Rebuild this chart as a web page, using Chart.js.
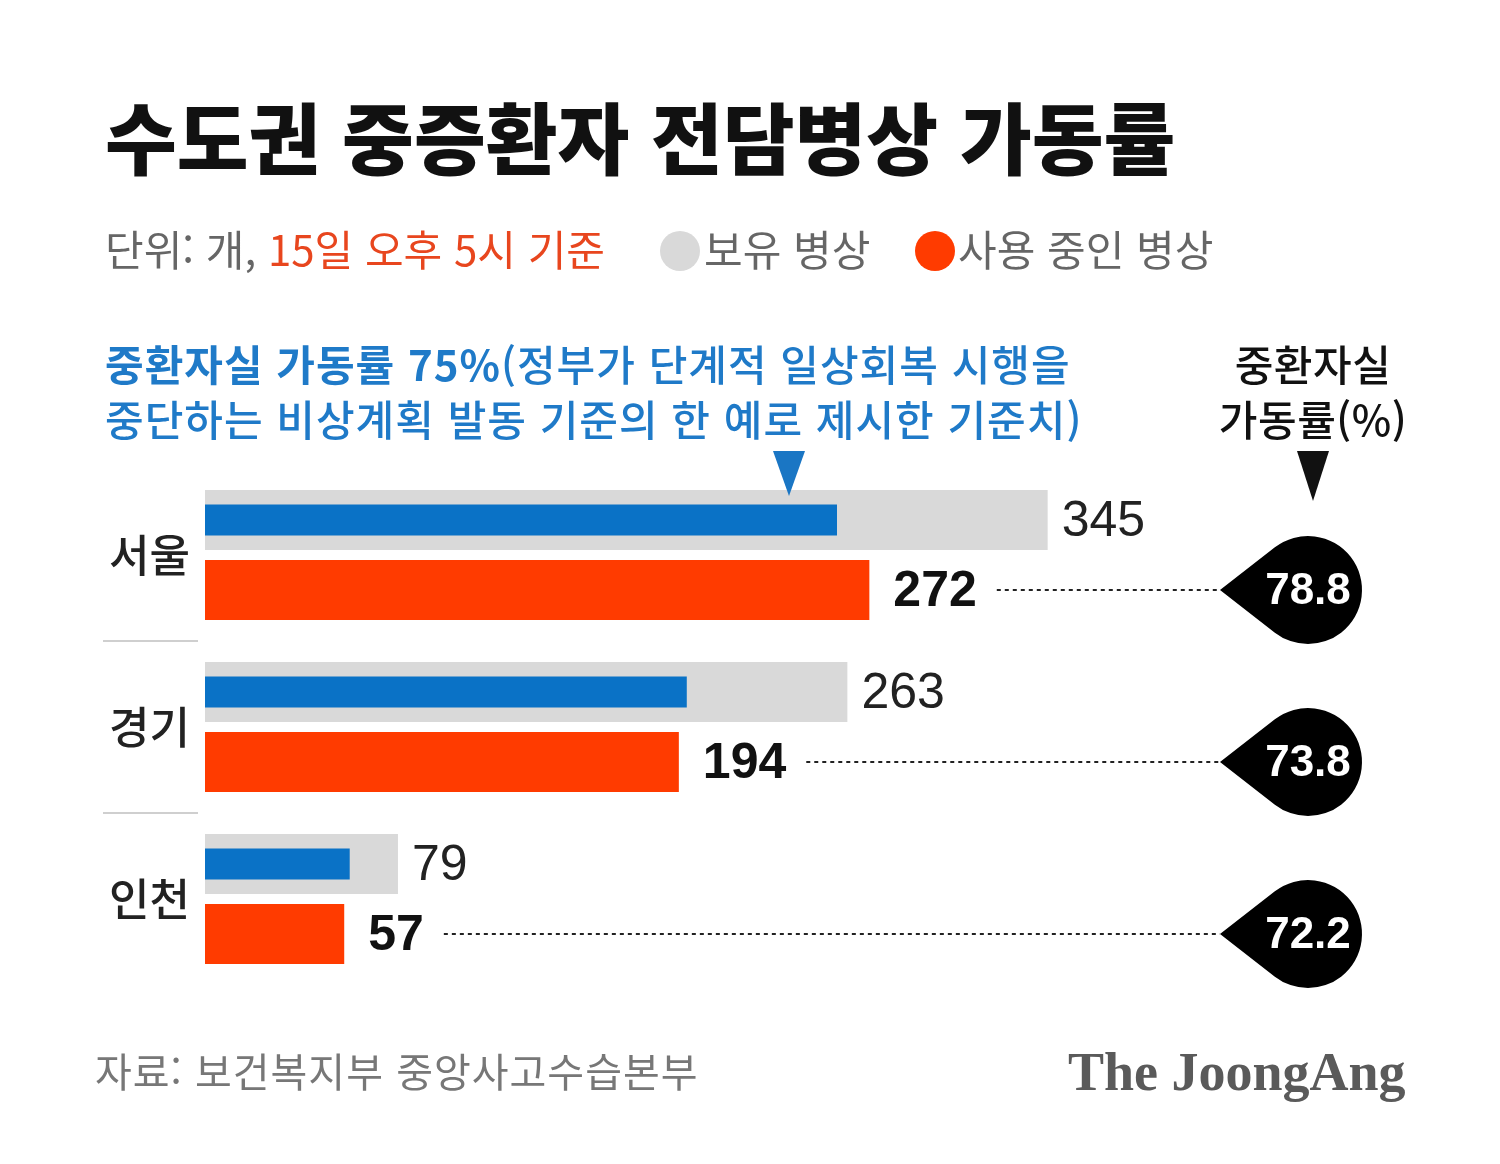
<!DOCTYPE html>
<html lang="ko">
<head>
<meta charset="utf-8">
<script src="https://cdn.jsdelivr.net/npm/chart.js@4.4.1/dist/chart.umd.min.js"></script>
<style>
  html, body { margin: 0; padding: 0; background: #fff; }
  #wrap { position: relative; width: 1500px; height: 1164px; overflow: hidden; font-family: "Noto Sans CJK KR", "Noto Sans", sans-serif; }
  #chart { position: absolute; left: 0; top: 0; }
  .t { position: absolute; white-space: nowrap; }
  #title { left: 105px; top: 96px; font-size: 78px; line-height: 78px; font-weight: 900; color: #111; letter-spacing: 0px; }
  .sub { top: 227px; font-size: 42px; line-height: 42px; color: #666; letter-spacing: 0px; }
  .sub .hl { color: #e8461e; }
  .dot { position: absolute; width: 40px; height: 40px; border-radius: 50%; top: 231px; }
  #note { left: 105px; top: 335px; font-size: 42px; line-height: 55px; color: #1f7ac8; font-weight: 500; letter-spacing: 1px; }
  #note b { font-weight: 700; }
  #rateHead { left: 1203px; top: 335px; width: 220px; text-align: center; font-size: 42px; line-height: 55px; color: #111; font-weight: 500; letter-spacing: 0.5px; }
  .tri { position: absolute; width: 0; height: 0; border-left: 16px solid transparent; border-right: 16px solid transparent; }
  #src { left: 95px; top: 1050px; font-size: 40px; line-height: 40px; color: #777; letter-spacing: 1px; }
  #logo { left: 1068px; top: 1042px; font-size: 54px; line-height: 60px; color: #5a5a5a; font-family: "Liberation Serif", "DejaVu Serif", serif; font-weight: 700; letter-spacing: 0px; }
</style>
</head>
<body>
<div id="wrap">
  <canvas id="chart" width="1500" height="1164"></canvas>
  <div class="t" id="title">수도권 중증환자 전담병상 가동률</div>
  <div class="t sub" style="left:105px">단위: 개, <span class="hl">15일 오후 5시 기준</span></div>
  <span class="dot" style="left:660px; background:#d9d9d9"></span>
  <div class="t sub" style="left:704px">보유 병상</div>
  <span class="dot" style="left:915px; background:#ff3b00"></span>
  <div class="t sub" style="left:958px">사용 중인 병상</div>
  <div class="t" id="note"><b>중환자실 가동률 75%</b>(정부가 단계적 일상회복 시행을<br>중단하는 비상계획 발동 기준의 한 예로 제시한 기준치)</div>
  <div class="t" id="rateHead">중환자실<br>가동률(%)</div>
  <div class="tri" style="left:773px; top:451px; border-top:45px solid #1a76c4;"></div>
  <div class="tri" style="left:1297px; top:451px; border-top:50px solid #111;"></div>
  <div class="t" id="src">자료: 보건복지부 중앙사고수습본부</div>
  <div class="t" id="logo">The JoongAng</div>
</div>
<script>
// ---- data ----
const categories = ['서울', '경기', '인천'];
const ownedBeds = [345, 263, 79];          // 보유 병상
const usedBeds = [272, 194, 57];           // 사용 중인 병상
const thresholdBeds = [258.75, 197.25, 59.25]; // 가동률 75% 기준선 (blue bars)
const occupancyRate = ['78.8', '73.8', '72.2']; // 중환자실 가동률(%)

const BLUE = '#0a72c6', GRAY = '#d9d9d9', RED = '#ff3b00';

const overlayPlugin = {
  id: 'overlay',
  afterDatasetsDraw(chart) {
    const ctx = chart.ctx;
    const yScale = chart.scales.y;
    const grayMeta = chart.getDatasetMeta(1);
    const redMeta = chart.getDatasetMeta(2);
    ctx.save();
    ctx.strokeStyle = '#cfcfcf';
    ctx.lineWidth = 2;
    for (let i = 0; i < categories.length - 1; i++) {
      const y = Math.round((yScale.getPixelForValue(i) + yScale.getPixelForValue(i + 1)) / 2);
      ctx.beginPath();
      ctx.moveTo(103, y);
      ctx.lineTo(198, y);
      ctx.stroke();
    }
    const tipX = 1220, cx = 1308, r = 54;
    for (let i = 0; i < categories.length; i++) {
      const g = grayMeta.data[i];
      const rd = redMeta.data[i];
      ctx.fillStyle = '#222';
      ctx.textAlign = 'left';
      ctx.textBaseline = 'middle';
      ctx.font = '50px "Liberation Sans", Arial, sans-serif';
      ctx.fillText(String(ownedBeds[i]), g.x + 14, g.y + 2);
      ctx.fillStyle = '#111';
      ctx.font = 'bold 50px "Liberation Sans", Arial, sans-serif';
      const ux = rd.x + 24;
      ctx.fillText(String(usedBeds[i]), ux, rd.y + 2);
      const w = ctx.measureText(String(usedBeds[i])).width;
      ctx.strokeStyle = '#222';
      ctx.lineWidth = 2;
      ctx.setLineDash([4, 4]);
      ctx.beginPath();
      ctx.moveTo(ux + w + 20, rd.y);
      ctx.lineTo(tipX, rd.y);
      ctx.stroke();
      ctx.setLineDash([]);
      const cy = rd.y;
      const d = cx - tipX;
      const a = Math.acos(r / d);
      ctx.fillStyle = '#000';
      ctx.beginPath();
      ctx.moveTo(tipX, cy);
      ctx.arc(cx, cy, r, Math.PI + a, Math.PI - a + 2 * Math.PI, false);
      ctx.closePath();
      ctx.fill();
      ctx.fillStyle = '#fff';
      ctx.textAlign = 'center';
      ctx.font = 'bold 44px "Liberation Sans", Arial, sans-serif';
      ctx.fillText(occupancyRate[i], cx, cy + 2);
    }
    ctx.restore();
  }
};

const CAT_PCT = 140 / 172;
new Chart(document.getElementById('chart'), {
  type: 'bar',
  data: {
    labels: categories,
    datasets: [
      { label: '가동률 75% 기준', data: thresholdBeds, backgroundColor: BLUE, stack: 'owned', order: 0,
        barPercentage: 31 / 70, categoryPercentage: CAT_PCT },
      { label: '보유 병상', data: ownedBeds, backgroundColor: GRAY, stack: 'owned', order: 1,
        barPercentage: 60 / 70, categoryPercentage: CAT_PCT },
      { label: '사용 중인 병상', data: usedBeds, backgroundColor: RED, stack: 'used', order: 1,
        barPercentage: 60 / 70, categoryPercentage: CAT_PCT }
    ]
  },
  options: {
    indexAxis: 'y',
    responsive: false,
    animation: false,
    devicePixelRatio: 1,
    layout: { padding: { left: 105, top: 469, right: 318, bottom: 179 } },
    plugins: { legend: { display: false }, tooltip: { enabled: false }, title: { display: false } },
    scales: {
      x: { display: false, min: 0, max: 400, stacked: false },
      y: {
        afterFit(scale) { scale.width = 100; },
        grid: { display: false, drawTicks: false },
        border: { display: false },
        ticks: { padding: 15, color: '#222', font: { family: '"Noto Sans CJK KR", sans-serif', size: 44, weight: '500' } }
      }
    }
  },
  plugins: [overlayPlugin]
});
</script>
</body>
</html>
